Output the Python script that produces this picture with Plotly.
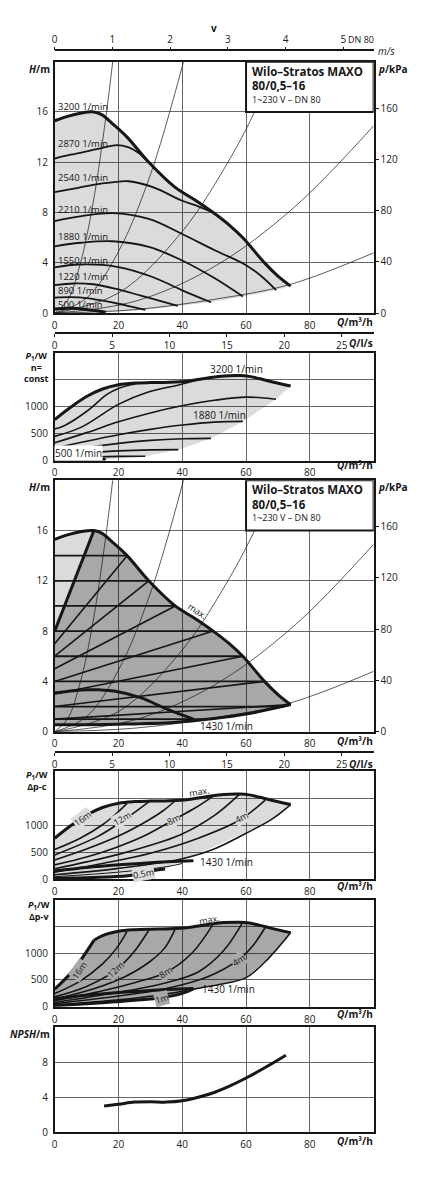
import plotly.graph_objects as go

FONT = "Open Sans"
INK = "#161616"
GRID = "#666666"
LIGHT = "rgba(0,0,0,0.14)"
DARK = "rgba(0,0,0,0.34)"
# the page body has an 8 px margin: all target pixel positions are shifted by it
OFF = 8
FW, FH = 409, 1184
X0, X1 = 52, 373.3
THICK, MID, THIN = 3.0, 1.6, 0.7

# ---------------- panel 1 : H(Q), n = const ----------------
speed_labels = ["3200", "2870", "2540", "2210", "1880", "1550", "1220", "890", "500"]
q_max = [0, 4, 8, 12.3, 15, 18, 22.7, 29.5, 37.8, 44, 49.7, 55, 59, 65.8, 70, 74]
h_max = [15.3, 15.65, 15.9, 16.0, 15.75, 15.1, 14.0, 12.0, 10.0, 9.0, 8.0, 6.95, 6.0, 4.0, 2.95, 2.15]
q_2870 = [0, 5, 10.8, 15, 19.6, 23, 26, 29.5]
h_2870 = [12.3, 12.6, 12.9, 13.15, 13.36, 13.2, 12.8, 12.0]
q_2540 = [0, 6, 12, 18, 23.2, 31, 39.8, 45, 49.7]
h_2540 = [9.62, 9.9, 10.2, 10.4, 10.49, 10.0, 8.96, 8.5, 8.0]
q_2210 = [0, 8, 18, 29.5, 39.8, 50.2, 60, 65, 69.4]
h_2210 = [7.33, 7.7, 7.96, 7.5, 6.32, 5.0, 3.82, 2.9, 1.84]
q_1880 = [0, 8, 18, 29.5, 39.8, 50.2, 59]
h_1880 = [5.32, 5.6, 5.72, 5.27, 4.21, 2.77, 1.32]
q_1550 = [0, 7.7, 19.6, 30.5, 39.8, 49]
h_1550 = [3.64, 3.87, 3.69, 2.9, 1.84, 0.87]
q_1220 = [0, 6, 12, 19, 27, 33, 38.6]
h_1220 = [2.24, 2.36, 2.3, 1.95, 1.4, 0.98, 0.58]
q_890 = [0, 5, 10, 15, 20, 24, 28.4]
h_890 = [1.24, 1.27, 1.2, 1.0, 0.75, 0.52, 0.26]
q_500 = [0, 5, 10, 16]
h_500 = [0.34, 0.4, 0.3, 0.08]
q_lo1 = [74, 69.4, 59, 49, 38.6, 28.4, 16, 0]
h_lo1 = [2.15, 1.84, 1.32, 0.87, 0.58, 0.26, 0.08, 0]

# thin system curves (panels 1 and 3)
q_sys = [[0, 4, 8, 12, 16, 18.2],
         [0, 10, 20, 30, 40.4],
         [0, 20, 40, 55, 62.7, 70],
         [0, 25, 50, 75, 100],
         [0, 25, 50, 74, 100]]
h_sys = [[0, 1.0, 3.9, 8.7, 15.5, 20],
         [0, 1.2, 4.9, 11.0, 20],
         [0, 1.6, 6.5, 12.3, 16, 20],
         [0, 0.93, 3.7, 8.4, 14.9],
         [0, 0.28, 1.1, 2.3, 4.8]]

# ---------------- panel 2 : P1(Q), n = const ----------------
q_pmax = [0, 5, 10, 15, 20, 25, 30, 36, 42, 48, 53, 58, 61, 64, 68, 74]
p_pmax = [760, 990, 1190, 1330, 1410, 1440, 1450, 1455, 1480, 1535, 1572, 1580, 1565, 1525, 1465, 1385]
q_p2870 = [0, 3, 10.3, 16.5, 20, 24.8, 27]
p_p2870 = [586, 648, 926, 1234, 1340, 1419, 1445]
q_p2540 = [0, 8.2, 20.1, 28.9, 39.8, 45]
p_p2540 = [450, 617, 1049, 1265, 1419, 1505]
q_p2210 = [0, 10, 20, 30, 39.8, 50, 60, 69.4]
p_p2210 = [330, 520, 720, 885, 1018, 1120, 1180, 1141]
q_p1880 = [0, 10, 20, 30, 40, 50, 59]
p_p1880 = [230, 360, 480, 580, 660, 715, 728]
q_p1550 = [0, 10, 20, 30, 40, 49]
p_p1550 = [150, 240, 320, 375, 405, 413]
q_p1220 = [0, 10, 20, 30, 38.8]
p_p1220 = [90, 140, 180, 200, 204]
q_p890 = [0, 10, 20, 28.4]
p_p890 = [50, 65, 78, 80]
q_p500 = [0, 8, 16]
p_p500 = [18, 22, 20]
q_plo2 = [74, 69.4, 59, 49, 38.8, 28.4, 16, 0]
p_plo2 = [1385, 1141, 728, 413, 204, 80, 20, 0]

# ---------------- panel 3 : H(Q), dp-c / dp-v ----------------
q_lo3 = [74, 60, 50, 37.2, 20, 0]
h_lo3 = [2.15, 1.4, 1.05, 0.74, 0.6, 0.55]
q_1430 = [0, 8.2, 14, 18.6, 26.9, 35.2, 43.5]
h_1430 = [3.07, 3.32, 3.33, 3.24, 2.71, 1.79, 1.0]
dpc_h = [14, 12, 10, 8, 6, 4, 2, 1]
dpc_q_end = [22.7, 29.5, 37.8, 49.7, 59, 65.8, 72, 50]
dpv_h_start = [8, 7, 6, 5, 4, 3, 2, 1]
dpv_q_end = [12.3, 22.7, 29.5, 37.8, 49.7, 59, 65.8, 74]
dpv_h_end = [16, 14, 12, 10, 8, 6, 4, 2.15]

# ---------------- panel 4 : P1(Q), dp-c ----------------
c_q = [[0, 8, 15, 19, 22.7],
       [0, 13.4, 21.7, 25.5, 29.5],
       [0, 10, 20, 29.5, 34, 37.8],
       [0, 10, 18.6, 28, 37.2, 44, 49.7],
       [0, 10, 20, 30, 39.3, 50, 58],
       [0, 15, 30, 45, 58, 66],
       [0, 20, 39.3, 50, 60, 68, 74]]
c_p = [[550, 760, 1010, 1200, 1407],
       [450, 789, 1098, 1260, 1437],
       [357, 560, 800, 1098, 1270, 1456],
       [265, 410, 574, 800, 1098, 1320, 1543],
       [191, 320, 460, 630, 820, 1180, 1580],
       [130, 290, 480, 760, 1098, 1469],
       [80, 200, 370, 560, 852, 1110, 1385]]
q_c1 = [0, 20, 35, 40]
p_c1 = [45, 130, 230, 290]
q_c05 = [0, 12, 23, 28, 32, 34.6]
p_c05 = [15, 30, 62, 110, 170, 190]
q_p1430 = [0, 10, 20, 30, 43.5]
p_p1430 = [150, 215, 265, 305, 340]
q_plo4 = [74, 68, 60, 50, 42, 34.6]
p_plo4 = [1385, 1110, 870, 600, 400, 190]

# ---------------- panel 5 : P1(Q), dp-v ----------------
q_v16 = [0, 5.6, 12.3]
p_v16 = [328, 667, 1241]
v_q = [[0, 8, 15, 19.5, 22.7],
       [0, 10, 18.6, 24.5, 29.5],
       [0, 12, 22, 30, 34.5, 37.8],
       [0, 15, 25, 34.7, 43, 49.7],
       [0, 20, 35, 45, 53, 59],
       [0, 20, 35, 48, 57.5, 62, 66],
       [0, 20, 35, 43.5, 52, 60, 67, 74]]
v_p = [[248, 480, 800, 1100, 1407],
       [185, 380, 660, 1000, 1430],
       [142, 330, 560, 850, 1100, 1456],
       [111, 300, 450, 636, 1000, 1543],
       [80, 270, 450, 650, 1050, 1580],
       [56, 200, 340, 560, 870, 1130, 1480],
       [31, 130, 240, 330, 420, 544, 900, 1385]]
q_v1 = [0, 15, 25, 33.6, 40, 43.5]
p_v1 = [20, 75, 120, 170, 250, 335]

# ---------------- panel 6 : NPSH ----------------
q_npsh = [15.5, 20, 25, 30, 35, 40, 45, 50, 55, 60, 66, 72.5]
npsh = [3.0, 3.2, 3.45, 3.5, 3.45, 3.6, 4.0, 4.55, 5.3, 6.2, 7.4, 8.8]


def px_x(p):
    return (p - OFF) / FW


def px_y(p):
    return 1 - (p - OFF) / FH


# ---------------- figure ----------------
fig = go.Figure()
TF = dict(family=FONT, size=10, color="#222")


def line(q, v, ax, width=MID, shape="spline"):
    fig.add_trace(go.Scatter(x=q, y=v, xaxis="x" + ax, yaxis="y" + ax, mode="lines",
                             line=dict(color=INK, width=width, shape=shape),
                             hoverinfo="skip", showlegend=False))


def area(q, v, ax, color):
    fig.add_trace(go.Scatter(x=q, y=v, xaxis="x" + ax, yaxis="y" + ax, mode="lines",
                             fill="toself", fillcolor=color, line=dict(width=0),
                             hoverinfo="skip", showlegend=False))


def rev(a):
    return list(reversed(a))


# panel 1
area([0] + q_max + q_lo1, [0] + h_max + h_lo1, "", LIGHT)
for qs, hs in zip(q_sys, h_sys):
    line(qs, hs, "", THIN)
for qs, hs in [(q_2870, h_2870), (q_2540, h_2540), (q_2210, h_2210), (q_1880, h_1880),
               (q_1550, h_1550), (q_1220, h_1220), (q_890, h_890)]:
    line(qs, hs, "", 1.8)
line(q_500, h_500, "", THICK)
line(q_max, h_max, "", THICK)

# panel 2
area([0] + q_pmax + q_plo2, [0] + p_pmax + p_plo2, "2", LIGHT)
for qs, ps in [(q_p2870, p_p2870), (q_p2540, p_p2540), (q_p2210, p_p2210), (q_p1880, p_p1880),
               (q_p1550, p_p1550), (q_p1220, p_p1220), (q_p890, p_p890)]:
    line(qs, ps, "2", 1.6)
line(q_p500, p_p500, "2", THICK)
line(q_pmax, p_pmax, "2", THICK)

# panel 3
area([0] + q_max[:4], [dpv_h_start[0]] + h_max[:4], "3", LIGHT)
area(q_max[3:] + q_lo3 + [0], h_max[3:] + h_lo3 + [dpv_h_start[0]], "3", DARK)
for qs, hs in zip(q_sys, h_sys):
    line(qs, hs, "3", THIN)
for hc, qe in zip(dpc_h, dpc_q_end):
    line([0, qe], [hc, hc], "3", 1.8, "linear")
for h0, qe, he in zip(dpv_h_start[1:], dpv_q_end[1:], dpv_h_end[1:]):
    line([0, qe], [h0, he], "3", 1.6, "linear")
line([0, dpv_q_end[0]], [dpv_h_start[0], dpv_h_end[0]], "3", THICK, "linear")
line(q_lo3, h_lo3, "3", THICK)
line(q_1430, h_1430, "3", THICK)
line(q_max, h_max, "3", THICK)

# panel 4
area([0] + q_pmax + q_plo4 + rev(q_c05), [p_c05[0]] + p_pmax + p_plo4 + rev(p_c05), "4", LIGHT)
for qs, ps in zip(c_q, c_p):
    line(qs, ps, "4", 1.6)
line(q_c1, p_c1, "4", 1.0)
line(q_c05, p_c05, "4", THICK)
line(q_p1430, p_p1430, "4", THICK)
line(q_pmax, p_pmax, "4", THICK)

# panel 5
i0 = 3  # first max point right of the 16 m line
area(q_v16 + q_pmax[i0:] + rev(v_q[-1]) + rev(q_v1),
     p_v16 + p_pmax[i0:] + rev(v_p[-1]) + rev(p_v1), "5", DARK)
for qs, ps in zip(v_q, v_p):
    line(qs, ps, "5", 1.6)
line(q_v1, p_v1, "5", THICK)
line(q_p1430, p_p1430, "5", THICK)
line(q_v16, p_v16, "5", THICK)
line([q_v16[-1]] + q_pmax[i0:], [p_v16[-1]] + p_pmax[i0:], "5", THICK)

# panel 6
line(q_npsh, npsh, "6", THICK)

# carriers for the secondary scales (invisible)
V_MAX = 100 / 3600 / (3.14159 * 0.04 ** 2)
LS_MAX = 100 / 3.6
for xa, ya, xs, ys in [("x7", "y", [0, V_MAX], [None, None]), ("x8", "y", [0, LS_MAX], [None, None]),
                       ("x9", "y3", [0, LS_MAX], [None, None]), ("x", "y7", [None, None], [0, 196]),
                       ("x3", "y8", [None, None], [0, 196])]:
    fig.add_trace(go.Scatter(x=xs, y=ys, xaxis=xa, yaxis=ya, mode="lines", opacity=0,
                             hoverinfo="skip", showlegend=False))

# ---------------- axes ----------------
P_TICKS = [0, 500, 1000]
panels = {"": (62, 315, [0, 20], [0, 4, 8, 12, 16], None),
          "2": (355, 463.3, [0, 2000], P_TICKS, [1500]),
          "3": (483, 736, [0, 20], [0, 4, 8, 12, 16], None),
          "4": (776, 884.3, [0, 2000], P_TICKS, [1500]),
          "5": (905, 1012.7, [0, 2000], P_TICKS, [1500]),
          "6": (1033.3, 1139, [0, 12], [0, 4, 8], None)}
frame = dict(showline=True, linecolor=INK, linewidth=1.5, mirror=True, zeroline=False,
             showgrid=True, gridcolor=GRID, gridwidth=1, ticks="", tickfont=TF, fixedrange=True)
lay = {}
for k, (top, bot, rng, vals, extra) in panels.items():
    lay["xaxis" + k] = dict(frame, domain=[px_x(X0), px_x(X1)], range=[0, 100], anchor="y" + k,
                            tickvals=[0, 20, 40, 60, 80], ticklabelstandoff=2)
    yax = dict(frame, domain=[px_y(bot), px_y(top)], range=rng, anchor="x" + k,
               tickvals=vals, ticklabelstandoff=3)
    if extra:
        yax["minor"] = dict(tickvals=extra, showgrid=True, gridcolor=GRID, gridwidth=1, ticks="")
    lay["yaxis" + k] = yax

aux = dict(showline=True, linecolor=INK, linewidth=1.5, showgrid=False, zeroline=False,
           ticks="outside", ticklen=3, tickwidth=1.2, tickcolor=INK, tickfont=TF, fixedrange=True)
lay["xaxis7"] = dict(aux, overlaying="x", anchor="free", position=px_y(50.7), side="top",
                     range=[0, V_MAX], tickvals=[0, 1, 2, 3, 4, 5])
lay["xaxis8"] = dict(aux, overlaying="x", anchor="free", position=px_y(335), side="bottom",
                     range=[0, LS_MAX], tickvals=[0, 5, 10, 15, 20, 25])
lay["xaxis9"] = dict(aux, overlaying="x3", anchor="free", position=px_y(756.7), side="bottom",
                     range=[0, LS_MAX], tickvals=[0, 5, 10, 15, 20, 25])
for k, base, a in [("7", "y", "x"), ("8", "y3", "x3")]:
    lay["yaxis" + k] = dict(aux, overlaying=base, anchor=a, side="right",
                            range=[0, 20 * 9.81], tickvals=[0, 40, 80, 120, 160], ticklen=4,
                            showline=False)

fig.update_layout(width=FW, height=FH, margin=dict(l=0, r=0, t=0, b=0),
                  paper_bgcolor="white", plot_bgcolor="white", showlegend=False,
                  font=dict(family=FONT, color=INK), **lay)

# ---------------- box and texts ----------------
for k in ["", "3"]:
    fig.add_shape(type="rect", xref="x" + k, yref="y" + k, x0=60, x1=100, y0=16, y1=20,
                  fillcolor="white", line=dict(color=INK, width=2), layer="above")

ann = []


def txt(s, xp, yp, size=10, anchor="left", angle=0, bg=None, ref=None):
    d = dict(text=s, showarrow=False, xanchor=anchor, yanchor="middle",
             font=dict(family=FONT, size=size, color=INK), textangle=angle, borderpad=0)
    if ref is not None:
        d.update(xref="x" + ref, yref="y" + ref, x=xp, y=yp)
    else:
        d.update(xref="paper", yref="paper", x=px_x(xp), y=px_y(yp))
    if bg:
        d["bgcolor"] = bg
    ann.append(d)


for top in [62, 483]:
    txt("<b>Wilo–Stratos MAXO</b>", 250, top + 9.7, 11.5)
    txt("<b>80/0,5–16</b>", 250, top + 24, 11.5)
    txt("1~230 V – DN 80", 250, top + 38, 9)
    txt("<b><i>H</i>/m</b>", 48, top + 7, 10, "right")
    txt("<b><i>p</i>/kPa</b>", 377, top + 7, 10)

txt("<b>v</b>", 212, 28, 10, "center")
txt("DN 80", 375, 40, 9, "right")
txt("<i>m/s</i>", 377, 51, 10)
for yp in [324, 745, 468, 891.5, 1020, 1148]:
    txt("<b><i>Q</i>/m³/h</b>", 374, yp, 10, "right")
for yp in [345, 768]:
    txt("<b><i>Q</i>/l/s</b>", 374, yp, 10, "right")

txt("<b><i>P</i><sub>1</sub>/W<br>n=<br>const</b>", 20, 369, 9)
txt("<b><i>P</i><sub>1</sub>/W<br>Δp-c</b>", 22, 785, 9)
txt("<b><i>P</i><sub>1</sub>/W<br>Δp-v</b>", 24, 916, 9)
txt("<b><i>NPSH</i>/m</b>", 48, 1040, 10, "right")

# speed labels, panel 1
for s, yp in zip(speed_labels, [107, 144, 179, 211, 238.3, 261.7, 278.5, 292.5, 306.5]):
    txt(s + " 1/min", 54.5, yp, 9.5)

# panel 2
txt("3200 1/min", 57, 1700, 10, "center", ref="2")
txt("1880 1/min", 51.6, 845, 10, "center", ref="2")
txt("500 1/min", 7.5, 135, 10, "center", bg="white", ref="2")
# panel 3
txt("max.", 44.5, 9.6, 9, "center", 33, ref="3")
txt("1430 1/min", 45.4, 0.42, 10, ref="3")
# panel 4
txt("max.", 45.4, 1620, 9, "center", -10, ref="4")
txt("16m", 8.7, 1130, 9, "center", -36, "#dcdcdc", ref="4")
txt("12m", 21.2, 1120, 9, "center", -30, "#dcdcdc", ref="4")
txt("8m", 37.2, 1100, 9, "center", -28, "#dcdcdc", ref="4")
txt("4m", 58.5, 1140, 9, "center", -28, "#dcdcdc", ref="4")
txt("0.5m", 27.9, 98, 9, "center", -10, "#dcdcdc", ref="4")
txt("1430 1/min", 45.1, 326, 10, ref="4")
# panel 5
txt("max.", 48.5, 1637, 9, "center", -10, ref="5")
txt("16m", 7.7, 680, 9, "center", -55, "#a9a9a9", ref="5")
txt("12m", 19.1, 700, 9, "center", -42, "#a9a9a9", ref="5")
txt("8m", 34.7, 640, 9, "center", -32, "#a9a9a9", ref="5")
txt("4m", 57.5, 870, 9, "center", -33, "#a9a9a9", ref="5")
txt("1m", 33.6, 160, 9, "center", -15, "#a9a9a9", ref="5")
txt("1430 1/min", 46, 340, 10, ref="5")

fig.update_layout(annotations=ann)
fig.write_html("out.html")
